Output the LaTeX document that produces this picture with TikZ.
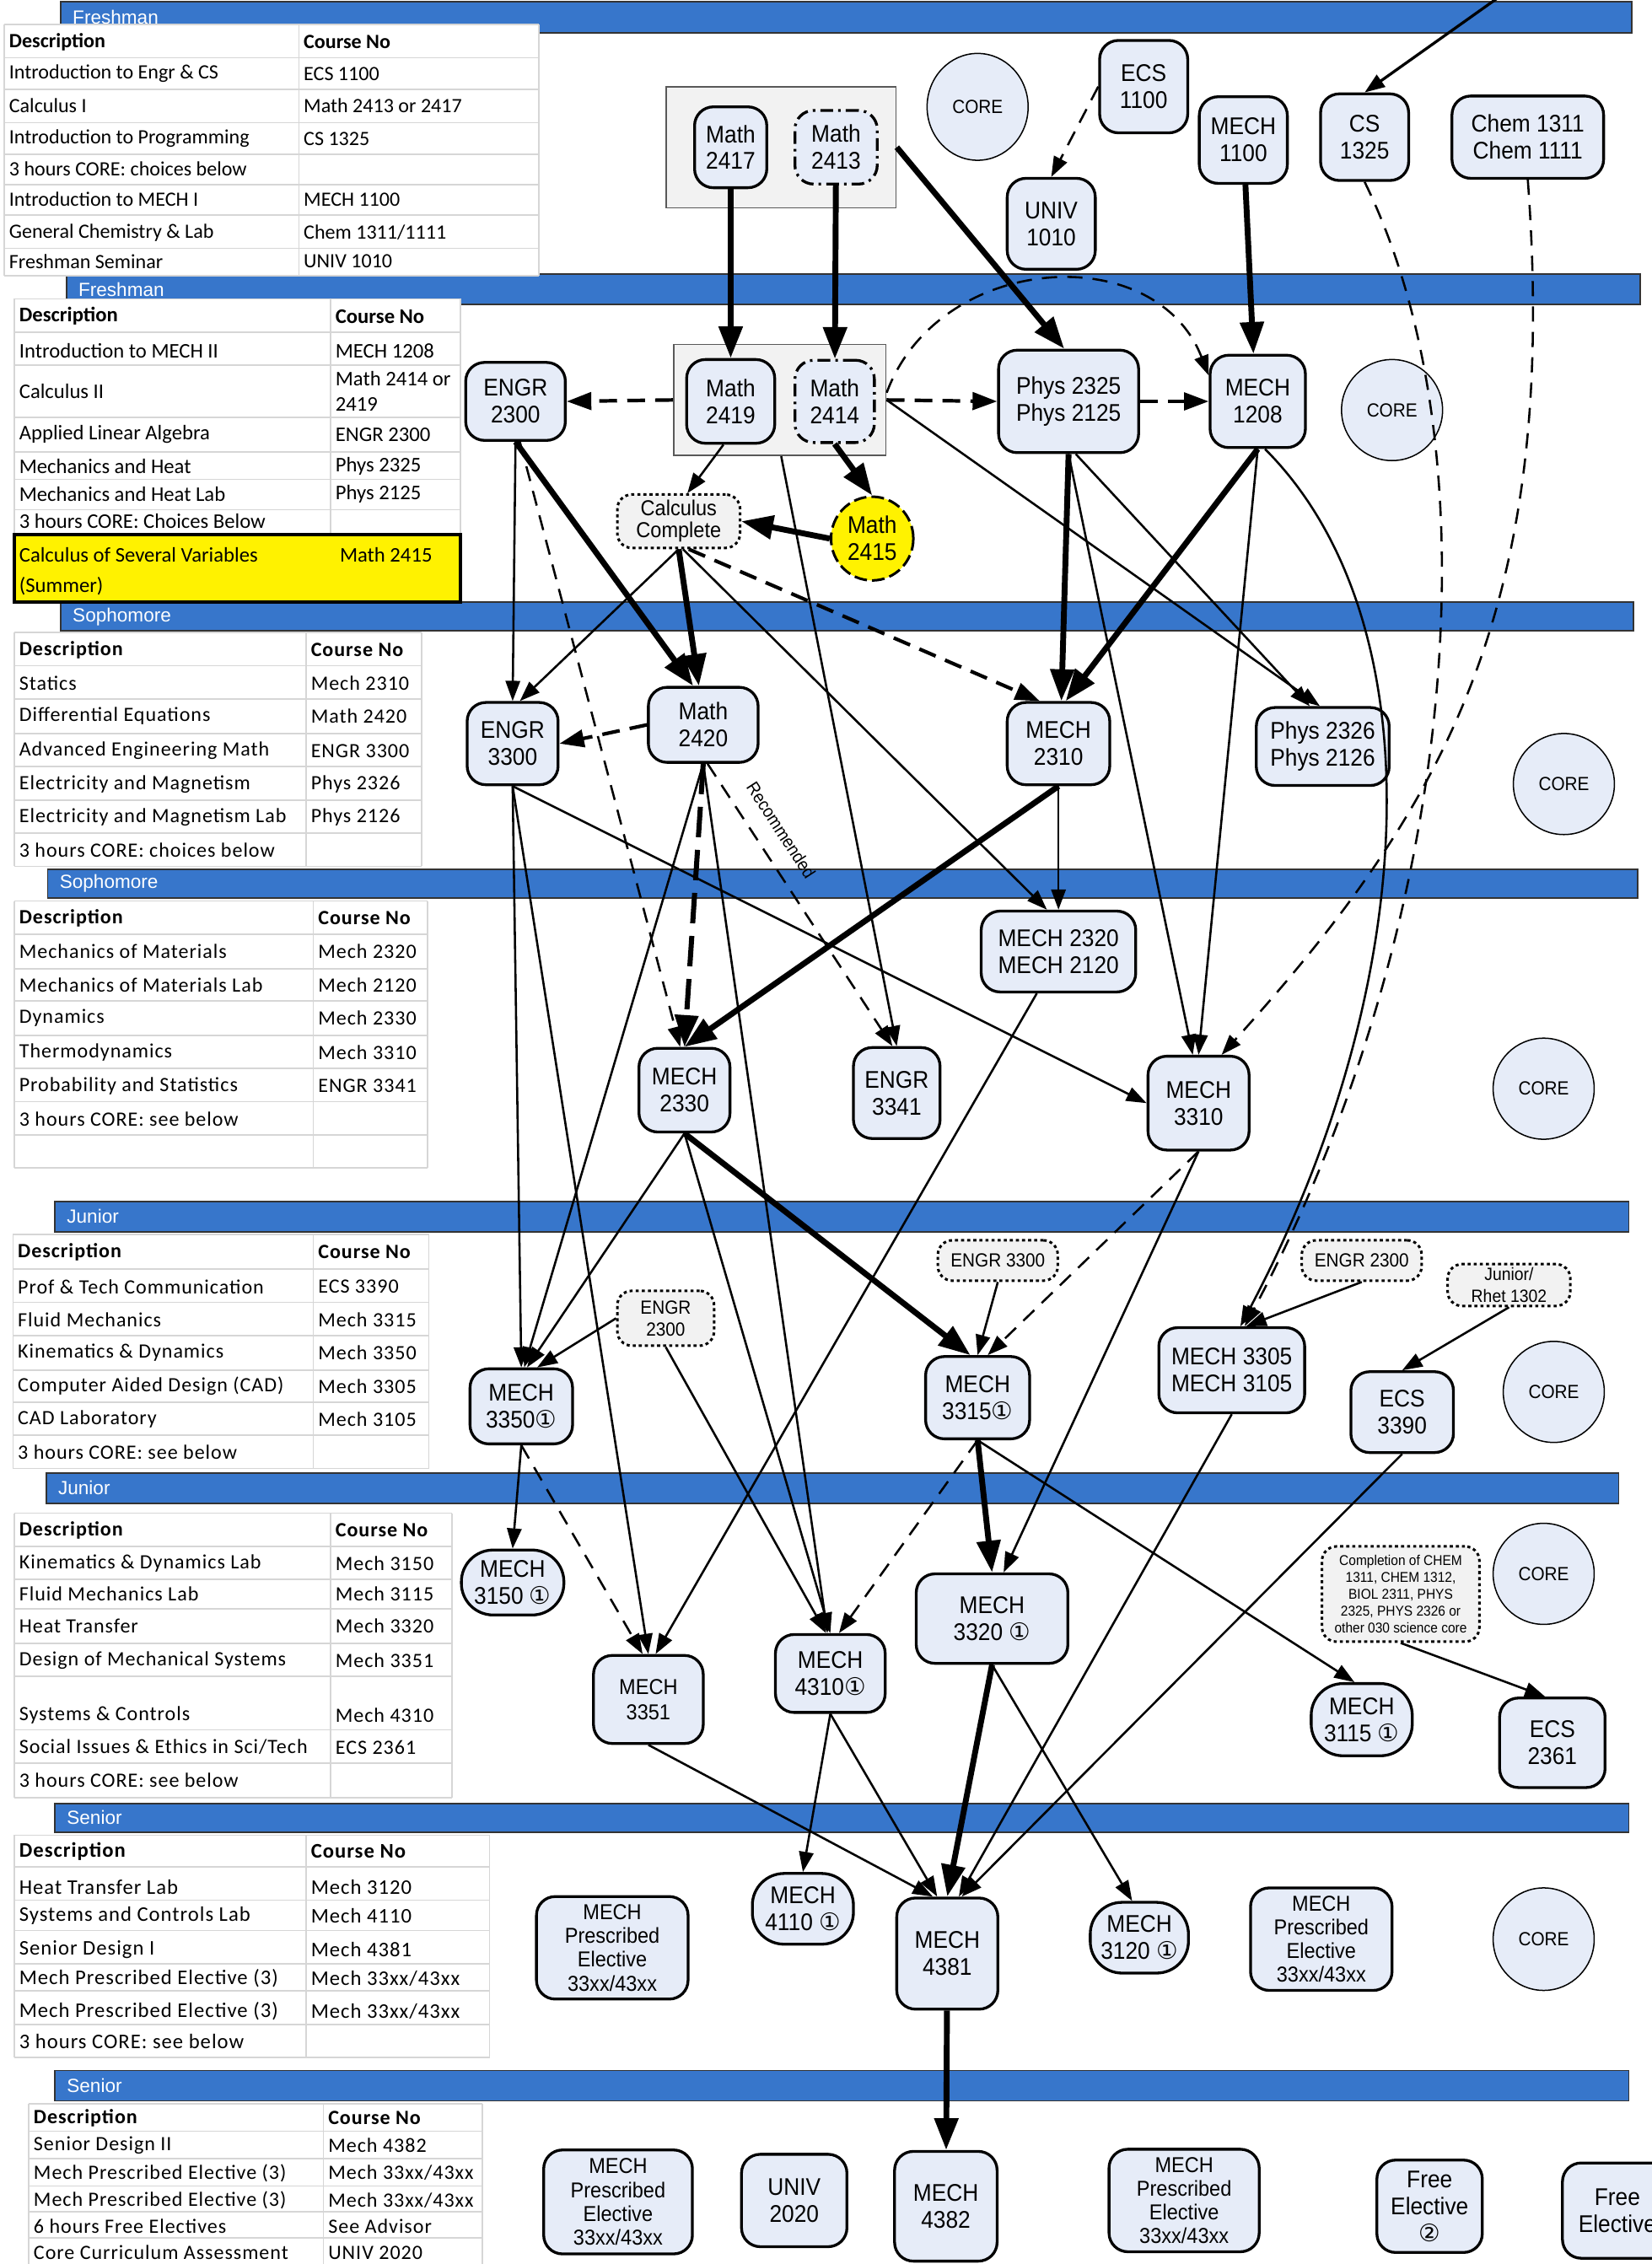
\documentclass[tikz,border=0pt]{standalone}
\usepackage{fontspec}
\setmainfont{Liberation Sans}
\newfontfamily\nodefont[FakeStretch=0.92]{Liberation Sans}
\newfontfamily\bandfont{Liberation Sans}
\newfontfamily\tabfont{Carlito}
\newfontfamily\tabfontw[LetterSpace=4]{Carlito}
\newfontfamily\symfont{DejaVu Sans}
\usetikzlibrary{arrows.meta,shapes.geometric}
\definecolor{bandblue}{HTML}{3776CB}
\definecolor{nodeblue}{HTML}{E6ECF8}
\definecolor{notegray}{HTML}{F2F2F2}
\newcommand{\cone}{{\symfont ①}}
\newcommand{\ctwo}{{\symfont ②}}

\begin{document}
\begin{tikzpicture}[x=0.2mm, y=-0.2mm,
	sz/.style 2 args = {minimum width=#1*0.2mm, minimum height=#2*0.2mm},
	band/.style = {draw=black!80, line width=0.6pt, fill=bandblue},
	bandlab/.style = {anchor=west, inner sep=0pt, text=white, font=\bandfont\fontsize{7.5}{8}\selectfont},
	gridc/.style = {draw=black!16, line width=0.6pt},
	tx/.style = {anchor=west, inner sep=0pt},
	grp/.style = {draw=black!65, line width=0.6pt, fill=notegray},
	course/.style = {draw, line width=1.1pt, rounded corners=2.6mm, fill=nodeblue, align=center, inner sep=0.5mm, font=\nodefont\fontsize{9.5}{10.6}\selectfont},
	oval/.style = {rounded corners=4.4mm},
	dd/.style = {dash pattern=on 5pt off 2pt on 1pt off 2pt},
	core/.style = {draw, ellipse, line width=0.5pt, fill=nodeblue, inner sep=0pt, font=\nodefont\fontsize{7.5}{8}\selectfont},
	note/.style = {draw, dash pattern=on 1.2pt off 1.2pt, line width=1pt, rounded corners=2mm, fill=notegray, align=center, inner sep=0.3mm, font=\nodefont\fontsize{7.5}{8.6}\selectfont},
	opt/.style = {draw, ellipse, dash pattern=on 5pt off 2pt, line width=1pt, fill=yellow, align=center, inner sep=0pt, font=\nodefont\fontsize{9.5}{10.6}\selectfont},
	pre/.style = {-{Triangle[length=2.8mm,width=2mm]}, line width=0.85pt},
	preb/.style = {-{Triangle[length=4.4mm,width=3.2mm]}, line width=2.3pt},
	co/.style = {pre, dash pattern=on 6pt off 4pt},
	cob/.style = {-{Triangle[length=3.4mm,width=2.4mm]}, line width=1.4pt, dash pattern=on 7pt off 4pt},
	cobb/.style = {preb, line width=2pt, dash pattern=on 12pt off 5pt},
	reclab/.style = {inner sep=0pt, font=\nodefont\fontsize{7}{8}\selectfont}]

	\useasboundingbox (0,0) rectangle (1144,1568);

	% year bands
	\foreach \xa/\ya/\xb/\yb/\lab [count=\i] in {42/1/1130/23/Freshman, 46/190/1136/211/Freshman, 42/417/1131/437/Sophomore, 33/602/1134/622/Sophomore, 38/832/1128/853/Junior, 32/1020/1121/1041/Junior, 38/1249/1128/1269/Senior, 38/1434/1128/1455/Senior} {
		\draw[band] (\xa,\ya) rectangle (\xb,\yb);
		\node[bandlab] (bl\i) at ({\xa+8},{(\ya+\yb)/2}) {\lab};
	}

	% tables
	\begin{scope}[tx/.append style={font=\tabfont\fontsize{8}{9}\selectfont}]
		\fill[white] (3,17) rectangle (373,191);
		\foreach \y in {17,40,62,85,107,128,149,172,191} \draw[gridc] (3,\y) -- (373,\y);
		\foreach \x in {3,207,373} \draw[gridc] (\x,17) -- (\x,191);
		\node[tx] (t1h1) at (6,29) {\bfseries Description};
		\node[tx] (t1h2) at (210,29) {\bfseries Course No};
		\foreach \y/\d/\c [count=\i] in {51/{Introduction to Engr \& CS}/{ECS 1100}, 73/{Calculus I}/{Math 2413 or 2417}, 96/{Introduction to Programming}/{CS 1325}, 117/{3 hours CORE: choices below}/{}, 138/{Introduction to MECH I}/{MECH 1100}, 161/{General Chemistry \& Lab}/{Chem 1311/1111}, 181/{Freshman Seminar}/{UNIV 1010}} {
			\node[tx] (t1d\i) at (6,\y) {\d};
			\node[tx] (t1c\i) at (210,\y) {\c};
		}
	\end{scope}

	\begin{scope}[tx/.append style={font=\tabfont\fontsize{8.2}{9}\selectfont}]
		\fill[white] (10,207) rectangle (319,370);
		\foreach \y in {207,230,253,289,313,332,353} \draw[gridc] (10,\y) -- (319,\y);
		\foreach \x in {10,229,319} \draw[gridc] (\x,207) -- (\x,370);
		\node[tx] (t2h1) at (13,219) {\bfseries Description};
		\node[tx] (t2h2) at (232,219) {\bfseries Course No};
		\foreach \y/\d/\c [count=\i] in {243/{Introduction to MECH II}/{MECH 1208}, 271/{Calculus II}/{}, 301/{Applied Linear Algebra}/{ENGR 2300}, 323/{Mechanics and Heat}/{Phys 2325}, 342/{Mechanics and Heat Lab}/{Phys 2125}, 361/{3 hours CORE: Choices Below}/{}} {
			\node[tx] (t2d\i) at (13,\y) {\d};
			\node[tx] (t2c\i) at (232,\y) {\c};
		}
		\node[tx] (t2c7) at (232,262) {Math 2414 or};
		\node[tx] (t2c8) at (232,280) {2419};
		\draw[line width=1.3pt, fill=yellow] (10,370) rectangle (319,417);
		\node[tx] (t2d7) at (13,384) {Calculus of Several Variables};
		\node[tx] (t2d8) at (13,406) {(Summer)};
		\node[tx] (t2c9) at (235,384) {Math 2415};
	\end{scope}

	\begin{scope}[tx/.append style={font=\tabfontw\fontsize{8}{9}\selectfont}]
		\fill[white] (10,438) rectangle (292,600);
		\foreach \y in {438,461,484,508,531,554,577,600} \draw[gridc] (10,\y) -- (292,\y);
		\foreach \x in {10,212,292} \draw[gridc] (\x,438) -- (\x,600);
		\node[tx] (t3h1) at (13,450) {\bfseries Description};
		\node[tx] (t3h2) at (215,450) {\bfseries Course No};
		\foreach \y/\d/\c [count=\i] in {473/{Statics}/{Mech 2310}, 496/{Differential Equations}/{Math 2420}, 520/{Advanced Engineering Math}/{ENGR 3300}, 543/{Electricity and Magnetism}/{Phys 2326}, 566/{Electricity and Magnetism Lab}/{Phys 2126}, 589/{3 hours CORE: choices below}/{}} {
			\node[tx] (t3d\i) at (13,\y) {\d};
			\node[tx] (t3c\i) at (215,\y) {\c};
		}
	\end{scope}

	\begin{scope}[tx/.append style={font=\tabfontw\fontsize{8}{9}\selectfont}]
		\fill[white] (10,624) rectangle (296,809);
		\foreach \y in {624,647,671,693,717,740,763,786,809} \draw[gridc] (10,\y) -- (296,\y);
		\foreach \x in {10,217,296} \draw[gridc] (\x,624) -- (\x,809);
		\node[tx] (t4h1) at (13,636) {\bfseries Description};
		\node[tx] (t4h2) at (220,636) {\bfseries Course No};
		\foreach \y/\d/\c [count=\i] in {659/{Mechanics of Materials}/{Mech 2320}, 682/{Mechanics of Materials Lab}/{Mech 2120}, 705/{Dynamics}/{Mech 2330}, 729/{Thermodynamics}/{Mech 3310}, 752/{Probability and Statistics}/{ENGR 3341}, 775/{3 hours CORE: see below}/{}} {
			\node[tx] (t4d\i) at (13,\y) {\d};
			\node[tx] (t4c\i) at (220,\y) {\c};
		}
	\end{scope}

	\begin{scope}[tx/.append style={font=\tabfontw\fontsize{8}{9}\selectfont}]
		\fill[white] (9,855) rectangle (297,1017);
		\foreach \y in {855,879,902,925,949,971,994,1017} \draw[gridc] (9,\y) -- (297,\y);
		\foreach \x in {9,217,297} \draw[gridc] (\x,855) -- (\x,1017);
		\node[tx] (t5h1) at (12,867) {\bfseries Description};
		\node[tx] (t5h2) at (220,867) {\bfseries Course No};
		\foreach \y/\d/\c [count=\i] in {891/{Prof \& Tech Communication}/{ECS 3390}, 914/{Fluid Mechanics}/{Mech 3315}, 937/{Kinematics \& Dynamics}/{Mech 3350}, 960/{Computer Aided Design (CAD)}/{Mech 3305}, 983/{CAD Laboratory}/{Mech 3105}, 1006/{3 hours CORE: see below}/{}} {
			\node[tx] (t5d\i) at (12,\y) {\d};
			\node[tx] (t5c\i) at (220,\y) {\c};
		}
	\end{scope}

	\begin{scope}[tx/.append style={font=\tabfontw\fontsize{8}{9}\selectfont}]
		\fill[white] (10,1048) rectangle (313,1245);
		\foreach \y in {1048,1071,1094,1114,1138,1161,1198,1221,1245} \draw[gridc] (10,\y) -- (313,\y);
		\foreach \x in {10,229,313} \draw[gridc] (\x,1048) -- (\x,1245);
		\node[tx] (t6h1) at (13,1060) {\bfseries Description};
		\node[tx] (t6h2) at (232,1060) {\bfseries Course No};
		\foreach \y/\d/\c [count=\i] in {1083/{Kinematics \& Dynamics Lab}/{Mech 3150}, 1104/{Fluid Mechanics Lab}/{Mech 3115}, 1126/{Heat Transfer}/{Mech 3320}, 1150/{Design of Mechanical Systems}/{Mech 3351}, 1188/{Systems \& Controls}/{Mech 4310}, 1210/{Social Issues \& Ethics in Sci/Tech}/{ECS 2361}, 1233/{3 hours CORE:  see below}/{}} {
			\node[tx] (t6d\i) at (13,\y) {\d};
			\node[tx] (t6c\i) at (232,\y) {\c};
		}
	\end{scope}

	\begin{scope}[tx/.append style={font=\tabfontw\fontsize{8.2}{9}\selectfont}]
		\fill[white] (10,1271) rectangle (339,1425);
		\foreach \y in {1271,1293,1316,1337,1360,1379,1402,1425} \draw[gridc] (10,\y) -- (339,\y);
		\foreach \x in {10,212,339} \draw[gridc] (\x,1271) -- (\x,1425);
		\node[tx] (t7h1) at (13,1282) {\bfseries Description};
		\node[tx] (t7h2) at (215,1282) {\bfseries Course No};
		\foreach \y/\d/\c [count=\i] in {1307/{Heat Transfer Lab}/{Mech 3120}, 1327/{Systems and Controls Lab}/{Mech 4110}, 1350/{Senior Design I}/{Mech 4381}, 1370/{Mech Prescribed Elective (3)}/{Mech 33xx/43xx}, 1393/{Mech Prescribed Elective (3)}/{Mech 33xx/43xx}, 1414/{3 hours CORE:  see below}/{}} {
			\node[tx] (t7d\i) at (13,\y) {\d};
			\node[tx] (t7c\i) at (215,\y) {\c};
		}
	\end{scope}

	\begin{scope}[tx/.append style={font=\tabfontw\fontsize{8}{9}\selectfont}]
		\fill[white] (20,1457) rectangle (334,1568);
		\foreach \y in {1457,1476,1495,1514,1532,1550} \draw[gridc] (20,\y) -- (334,\y);
		\foreach \x in {20,224,334} \draw[gridc] (\x,1457) -- (\x,1568);
		\node[tx] (t8h1) at (23,1467) {\bfseries Description};
		\node[tx] (t8h2) at (227,1467) {\bfseries Course No};
		\foreach \y/\d/\c [count=\i] in {1486/{Senior Design II}/{Mech 4382}, 1505/{Mech Prescribed Elective (3)}/{Mech 33xx/43xx}, 1524/{Mech Prescribed Elective (3)}/{Mech 33xx/43xx}, 1542/{6 hours Free Electives}/{See Advisor}, 1560/{Core Curriculum Assessment}/{UNIV 2020}} {
			\node[tx] (t8d\i) at (23,\y) {\d};
			\node[tx] (t8c\i) at (227,\y) {\c};
		}
	\end{scope}

	% freshman, first term
	\node[grp, sz={159}{84}] (g1) at (541,102) {};
	\node[course, sz={50}{56}] (m2417) at (506,102) {Math\\2417};
	\node[course, dd, sz={57}{51}] (m2413) at (579,102) {Math\\2413};
	\node[core, sz={70}{74}] (core1) at (677,74) {CORE};
	\node[course, sz={61}{64}] (e1100) at (792,60) {ECS\\1100};
	\node[course, sz={61}{63}] (u1010) at (728,155) {UNIV\\1010};
	\node[course, sz={61}{60}] (m1100) at (861,97) {MECH\\1100};
	\node[course, sz={61}{60}] (c1325) at (945,95) {CS\\1325};
	\node[course, sz={105}{57}] (chem) at (1058,95) {Chem 1311\\Chem 1111};
	\coordinate (topin) at (1038,-2);

	% freshman, second term
	\node[grp, sz={147}{77}] (g2) at (540,277) {};
	\node[course, sz={61}{58}] (m2419) at (506,278) {Math\\2419};
	\node[course, dd, sz={55}{57}] (m2414) at (578,278) {Math\\2414};
	\node[course, sz={69}{54}] (e2300) at (357,278) {ENGR\\2300};
	\node[course, sz={97}{71}] (p2325) at (740,278) {Phys 2325\\Phys 2125};
	\node[course, sz={66}{64}] (m1208) at (871,278) {MECH\\1208};
	\node[core, sz={70}{70}] (core2) at (964,284) {CORE};
	\node[note, sz={85}{37}] (calc) at (470,361) {\fontsize{8.5}{9.6}\selectfont Calculus\\\fontsize{8.5}{9.6}\selectfont Complete};
	\node[opt, sz={57}{58}] (m2415) at (604,373) {Math\\2415};

	% sophomore
	\node[course, sz={63}{57}] (e3300) at (355,515) {ENGR\\3300};
	\node[course, sz={76}{52}] (m2420) at (487,502) {Math\\2420};
	\node[course, sz={71}{57}] (m2310) at (733,515) {MECH\\2310};
	\node[course, sz={92}{54}] (p2326) at (916,517) {Phys 2326\\Phys 2126};
	\node[core, sz={70}{70}] (core3) at (1083,543) {CORE};
	\node[course, sz={107}{56}] (m2320) at (733,659) {MECH 2320\\MECH 2120};
	\node[course, sz={63}{58}] (m2330) at (474,755) {MECH\\2330};
	\node[course, sz={60}{63}] (e3341) at (621,757) {ENGR\\3341};
	\node[course, sz={70}{65}] (m3310) at (830,764) {MECH\\3310};
	\node[core, sz={70}{70}] (core4) at (1069,754) {CORE};
	\node[reclab, rotate=-57] (rec) at (541,575) {Recommended};

	% junior
	\node[course, sz={71}{52}] (m3350) at (361,974) {MECH\\3350\cone};
	\node[note, sz={67}{38}] (n2300a) at (461,913) {ENGR\\2300};
	\node[note, sz={83}{28}] (n3300) at (691,873) {ENGR 3300};
	\node[course, sz={72}{57}] (m3315) at (677,968) {MECH\\3315\cone};
	\node[course, sz={101}{59}] (m3305) at (853,949) {MECH 3305\\MECH 3105};
	\node[note, sz={83}{28}] (n2300b) at (943,873) {ENGR 2300};
	\node[note, sz={85}{29}] (njr) at (1045,890) {\fontsize{7}{8}\selectfont Junior/\\\fontsize{7}{8}\selectfont Rhet 1302};
	\node[course, sz={71}{56}] (e3390) at (971,978) {ECS\\3390};
	\node[core, sz={70}{70}] (core5) at (1076,964) {CORE};
	\node[course, oval, sz={71}{45}] (m3150) at (355,1096) {MECH\\3150 \cone};
	\node[course, sz={76}{61}, font=\nodefont\fontsize{8.5}{10}\selectfont] (m3351) at (449,1177) {MECH\\3351};
	\node[course, sz={76}{54}] (m4310) at (575,1159) {MECH\\4310\cone};
	\node[course, sz={105}{62}] (m3320) at (687,1121) {MECH\\3320 \cone};
	\node[course, oval, sz={70}{50}] (m3115) at (943,1191) {MECH\\3115 \cone};
	\node[note, sz={109}{66}, font=\nodefont\fontsize{5.6}{6.6}\selectfont] (ncomp) at (970,1104) {Completion of CHEM\\1311, CHEM 1312,\\BIOL 2311, PHYS\\2325, PHYS 2326 or\\other 030 science core};
	\node[course, sz={73}{62}] (e2361) at (1075,1207) {ECS\\2361};
	\node[core, sz={70}{70}] (core6) at (1069,1090) {CORE};

	% senior
	\node[course, sz={105}{71}, font=\nodefont\fontsize{8.5}{9.4}\selectfont] (pe1) at (424,1349) {MECH\\Prescribed\\Elective\\33xx/43xx};
	\node[course, oval, sz={70}{49}] (m4110) at (556,1322) {MECH\\4110 \cone};
	\node[course, sz={70}{77}] (m4381) at (656,1353) {MECH\\4381};
	\node[course, oval, sz={68}{49}] (m3120) at (789,1342) {MECH\\3120 \cone};
	\node[course, sz={98}{71}, font=\nodefont\fontsize{8.5}{9.4}\selectfont] (pe2) at (915,1343) {MECH\\Prescribed\\Elective\\33xx/43xx};
	\node[core, sz={70}{71}] (core7) at (1069,1343) {CORE};
	\node[course, sz={103}{72}, font=\nodefont\fontsize{8.5}{9.4}\selectfont] (pe3) at (428,1525) {MECH\\Prescribed\\Elective\\33xx/43xx};
	\node[course, sz={73}{64}] (u2020) at (550,1524) {UNIV\\2020};
	\node[course, sz={71}{76}] (m4382) at (655,1528) {MECH\\4382};
	\node[course, sz={104}{71}, font=\nodefont\fontsize{8.5}{9.4}\selectfont] (pe4) at (820,1524) {MECH\\Prescribed\\Elective\\33xx/43xx};
	\node[course, sz={73}{64}] (fe1) at (990,1528) {Free\\Elective\\\ctwo};
	\node[course, sz={76}{66}] (fe2) at (1120,1531) {Free\\Elective};

	% freshman links
	\draw[preb] (m2417) -- (m2419);
	\draw[preb] (m2413) -- (m2414);
	\draw[preb] (g1.east) -- ([xshift=-0.6mm]p2325.north);
	\draw[preb] (m1100) -- ([xshift=-0.6mm]m1208.north);
	\draw[co] (e1100.west) -- (u1010.north);
	\draw[pre, line width=1.1pt] (topin) -- (c1325.north);
	\draw[co] (c1325.south) .. controls (1040,320) and (1005,650) .. ([xshift=1.8mm]m3305.north);
	\draw[co] (chem.south) .. controls (1080,420) and (1000,560) .. ([xshift=-4mm]m3310.north east);
	\draw[cob] (g2.west) -- (e2300.east);
	\draw[cob] (g2.east) -- (p2325.west);
	\draw[cob] (p2325.east) -- (m1208.west);
	\draw[co] ([yshift=1mm]g2.east) .. controls (650,175) and (800,165) .. ([yshift=-3mm]m1208.north west);
	\draw[pre] ([xshift=-1mm]m2419.south) -- ([xshift=1.2mm]calc.north);
	\draw[preb] (m2414.south) -- (m2415.north);
	\draw[preb] (m2415.west) -- (calc.east);
	\draw[pre] ([xshift=0.2mm]g2.south) -- (e3341.north);
	\draw[pre] (g2.east) -- ([xshift=-0.4mm]p2326.north);
	\draw[preb] (p2325.south) -- ([xshift=0.4mm]m2310.north);
	\draw[preb] (m1208.south) -- ([xshift=1mm]m2310.north);
	\draw[pre] (p2325.south) -- ([xshift=-0.8mm]m3310.north);
	\draw[pre] ([xshift=1mm]p2325.south) -- ([xshift=-1.8mm]p2326.north);
	\draw[pre] (m1208.south) -- (m3310.north);
	\draw[pre] ([xshift=1mm]m1208.south) .. controls (995,430) and (985,680) .. ([xshift=1.2mm]m3305.north);
	\draw[pre] (e2300.south) -- (e3300.north);
	\draw[preb] (e2300.south) -- ([xshift=-1.4mm]m2420.north);
	\draw[co] ([xshift=0.6mm]e2300.south) -- ([xshift=-0.6mm]m2330.north);
	\draw[pre] (calc.south) -- ([xshift=1mm]e3300.north);
	\draw[preb] (calc.south) -- ([xshift=-0.6mm]m2420.north);
	\draw[cob] ([xshift=1.4mm]calc.south) -- ([xshift=-2.6mm]m2310.north);
	\draw[pre] ([xshift=0.6mm]calc.south) -- ([xshift=-1.6mm]m2320.north);

	% sophomore links
	\draw[cob] (m2420.west) -- (e3300.east);
	\draw[cobb] (m2420.south) -- (m2330.north);
	\draw[co] ([xshift=0.6mm]m2420.south) -- ([xshift=-0.6mm]e3341.north);
	\draw[pre] (m2420.south) -- ([xshift=0.4mm]m3350.north);
	\draw[pre] (m2420.south) -- ([xshift=-0.4mm]m4310.north);
	\draw[pre] (e3300.south) -- (m3350.north);
	\draw[pre] (e3300.south) -- (m3351.north);
	\draw[pre] (e3300.south) -- (m3310.west);
	\draw[pre] (m2310.south) -- (m2320.north);
	\draw[preb] (m2310.south) -- (m2330.north);
	\draw[preb] (m2330.south) -- ([xshift=-1mm]m3315.north);
	\draw[pre] (m2330.south) -- ([xshift=0.8mm]m3350.north);
	\draw[pre] (m2330.south) -- (m4310.north);
	\draw[pre] ([xshift=-3mm]m2320.south) -- ([xshift=1mm]m3351.north);
	\draw[pre] (m3310.south) -- ([xshift=1.6mm]m3320.north);
	\draw[co] (m3310.south) -- ([xshift=1.4mm]m3315.north);

	% junior links
	\draw[pre] (n2300a.west) -- ([xshift=2.2mm]m3350.north);
	\draw[pre] (n2300a.south) -- ([xshift=-0.6mm]m4310.north);
	\draw[pre] (n3300.south) -- (m3315.north);
	\draw[pre] (n2300b.south) -- ([xshift=2mm]m3305.north);
	\draw[pre] (njr.south) -- (e3390.north);
	\draw[pre] (m3350.south) -- (m3150.north);
	\draw[co] (m3350.south) -- ([xshift=-0.8mm]m3351.north);
	\draw[preb] (m3315.south) -- (m3320.north);
	\draw[co] (m3315.south) -- ([xshift=1.2mm]m4310.north);
	\draw[pre] (m3315.south) -- ([xshift=-1mm]m3115.north);
	\draw[pre] (m3305.south) -- ([xshift=1.6mm]m4381.north);
	\draw[pre] (e3390.south) -- ([xshift=2mm]m4381.north);
	\draw[pre] (ncomp.south) -- ([xshift=-1mm]e2361.north);
	\draw[pre] (m3351.south) -- ([xshift=-2mm]m4381.north);
	\draw[pre] (m4310.south) -- (m4110.north);
	\draw[pre] (m4310.south) -- ([xshift=-1.4mm]m4381.north);
	\draw[preb] (m3320.south) -- (m4381.north);
	\draw[pre] (m3320.south) -- ([xshift=-1mm]m3120.north);

	% senior link
	\draw[preb] (m4381) -- (m4382);
\end{tikzpicture}
\end{document}
